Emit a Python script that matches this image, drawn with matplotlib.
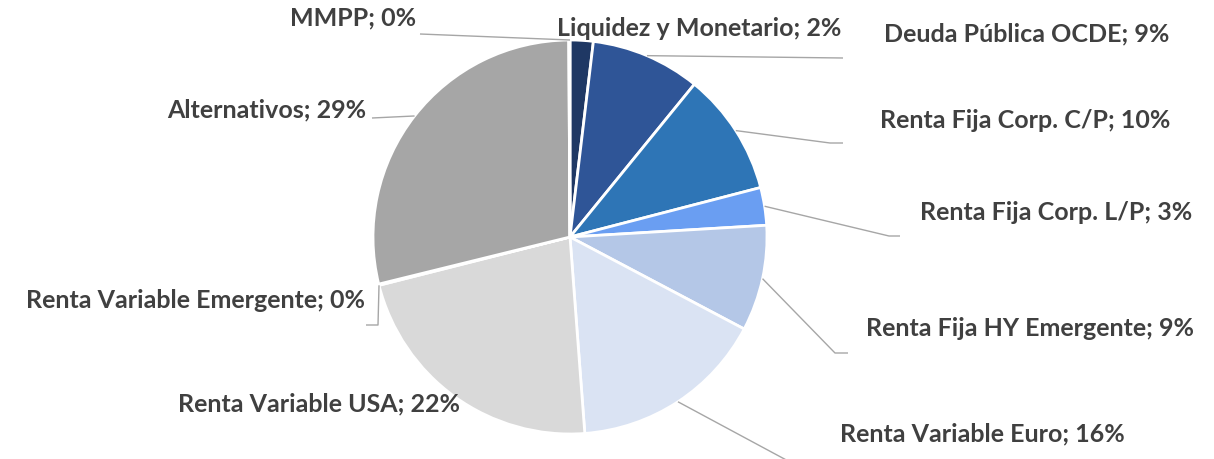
import matplotlib.pyplot as plt
import numpy as np

categories = [
    "Liquidez y Monetario",
    "Deuda Pública OCDE",
    "Renta Fija Corp. C/P",
    "Renta Fija Corp. L/P",
    "Renta Fija HY Emergente",
    "Renta Variable Euro",
    "Renta Variable USA",
    "Renta Variable Emergente",
    "Alternativos",
    "MMPP",
]
weights = [1.9, 9.0, 10.1, 3.1, 8.7, 16.1, 22.3, 0.1, 28.8, 0.1]

colors = ["#1F3864", "#2F5597", "#2E75B6", "#6A9EF2", "#B4C7E7",
          "#DAE3F3", "#D9D9D9", "#BFBFBF", "#A6A6A6", "#7F7F7F"]

W, H = 1214, 459
CX, CY, R = 570, 237, 197

# label centre (pixels, y down) and leader path after the wedge point (None = no leader)
label_pos = [
    (699, 28), (1027, 34), (1025, 120), (1056, 213), (1030, 329),
    (982, 434), (319, 404), (196, 300), (267, 110), (353, 18),
]
leaders = [
    None,
    [(843, 58)],
    [(830, 143), (843, 143)],
    [(889, 236), (900, 236)],
    [(835, 353), (848, 353)],
    [(790, 462)],
    None,
    [(378, 325), (366, 325)],
    [(372, 118)],
    [(420, 34)],
]


def main():
    fig = plt.figure(figsize=(W / 100, H / 100), dpi=100)
    ax = fig.add_axes([0, 0, 1, 1])

    ax.pie(weights, colors=colors, startangle=90, counterclock=False,
           center=(CX, H - CY), radius=R,
           wedgeprops=dict(edgecolor="white", linewidth=2))
    # pie() resets the limits, so set them afterwards
    ax.set_xlim(0, W)
    ax.set_ylim(0, H)
    ax.set_aspect("equal")
    ax.axis("off")

    total = sum(weights)
    cum = np.cumsum([0] + weights) / total
    for i, name in enumerate(categories):
        pct = round(weights[i] / total * 100)
        x, y = label_pos[i]
        ax.text(x, H - y, f"{name}; {pct}%", ha="center", va="center",
                fontsize=18, fontweight="bold", color="#404040",
                family=["Lato", "DejaVu Sans"])
        if leaders[i] is None:
            continue
        mid = (cum[i] + cum[i + 1]) / 2 * 2 * np.pi
        if name == "Renta Variable Emergente":
            mid = cum[i] * 2 * np.pi
        if name == "MMPP":
            mid = 2 * np.pi
        px = [CX + R * np.sin(mid)] + [p[0] for p in leaders[i]]
        py = [H - (CY - R * np.cos(mid))] + [H - p[1] for p in leaders[i]]
        ax.plot(px, py, color="#A6A6A6", lw=1, solid_capstyle="butt")

    fig.savefig("out.png", dpi=100)


if __name__ == "__main__":
    main()
